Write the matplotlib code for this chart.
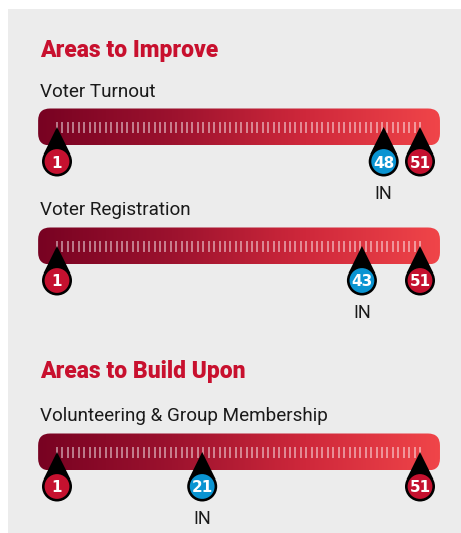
import numpy as np
import matplotlib
matplotlib.use("Agg")
import matplotlib.pyplot as plt
from matplotlib import transforms
from matplotlib.colors import LinearSegmentedColormap
from matplotlib.patches import FancyBboxPatch, Circle, Polygon, Rectangle

# datos
sections = ["Areas to Improve", "Areas to Build Upon"]
row_labels = ["Voter Turnout", "Voter Registration", "Volunteering & Group Membership"]
row_section = [0, 0, 1]
state_rank = [48, 43, 21]
state_name = "IN"
rank_low, rank_high = 1, 51

# estilo
RED = "#c5112f"
BLUE = "#0a94d2"
BG = "#ececec"
W, H = 461, 533
px_rank = 7.26          # pixeles por puesto
x_first = 57            # pixel del puesto 1

fig = plt.figure(figsize=(W / 100, H / 100), dpi=100, facecolor="white")
fig.patches.append(Rectangle((8 / W, 0), 1, 1 - 9 / H, transform=fig.transFigure,
                             facecolor=BG, edgecolor="none", zorder=-10))
ax = fig.add_axes([0, 0, 1, 1])
ax.set_axis_off()
ax.set_xlim((0 - x_first) / px_rank + rank_low, (W - x_first) / px_rank + rank_low)
ax.set_ylim(H, 0)

grad = LinearSegmentedColormap.from_list("bar", ["#780222", "#9c122e", "#cf283b", "#f04549"])
text_x = transforms.blended_transform_factory(fig.transFigure, ax.transData)

title_y = [57, 378]
label_y = [97, 215, 421]
bar_y = [127, 246, 452]
bar_h = 37

for s, ty in zip(sections, title_y):
    ax.text(40 / W, ty, s, transform=text_x, fontsize=16.5, fontweight=900,
            color="#c8102e", family=["Roboto", "DejaVu Sans"], va="baseline")


def pin(x, y, color, txt):
    tr = fig.dpi_scale_trans + transforms.ScaledTranslation(x, y, ax.transData)
    ax.add_patch(Polygon([(0, 0), (0.134, -0.27), (-0.134, -0.27)], closed=True,
                         facecolor="black", edgecolor="none", transform=tr, zorder=5))
    ax.add_patch(Circle((0, -0.345), 0.15, facecolor="black", transform=tr, zorder=5))
    ax.add_patch(Circle((0, -0.345), 0.124, facecolor=color, transform=tr, zorder=6))
    ax.text(0, -0.345, str(txt), transform=tr, ha="center", va="center_baseline",
            color="white", fontsize=11, fontweight="bold", zorder=7)


for i, lab in enumerate(row_labels):
    yc = bar_y[i]
    ax.text(40 / W, label_y[i], lab, transform=text_x, fontsize=13.6,
            color="#1a1a1a", family=["Roboto", "DejaVu Sans"], va="baseline")

    x0, x1 = rank_low - 2.6, rank_high + 2.75
    box = FancyBboxPatch((x0, yc - bar_h / 2), x1 - x0, bar_h,
                         boxstyle="round,pad=0,rounding_size=%.3f" % (12 / px_rank),
                         mutation_aspect=px_rank, facecolor="none", edgecolor="none",
                         transform=ax.transData)
    ax.add_patch(box)
    im = ax.imshow(np.linspace(0, 1, 256)[None, :], cmap=grad, aspect="auto",
                   extent=(x0, x1, yc + bar_h / 2, yc - bar_h / 2), zorder=2)
    im.set_clip_path(box)

    ticks = np.linspace(rank_low, rank_high, 68)
    ax.vlines(ticks, yc - 5, yc + 6, color="white", alpha=0.55, lw=1.2, zorder=3)

    # el estado se corre a la izquierda si choca con el ultimo puesto
    xs = min(state_rank[i], rank_high - 5)
    pin(rank_low, yc, RED, rank_low)
    pin(rank_high, yc, RED, rank_high)
    pin(xs, yc, BLUE, state_rank[i])
    ax.text(xs, yc + 72, state_name, ha="center", va="baseline", fontsize=13,
            color="#1a1a1a", family=["Roboto", "DejaVu Sans"])

fig.savefig("out.png", dpi=100, facecolor="white")
